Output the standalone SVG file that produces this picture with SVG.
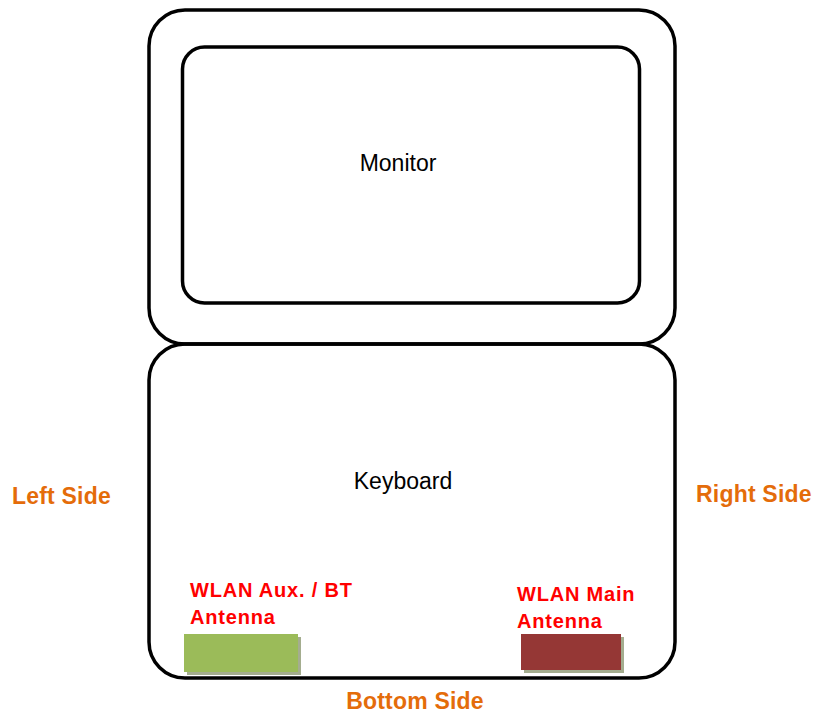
<svg xmlns="http://www.w3.org/2000/svg" width="816" height="714" viewBox="0 0 816 714">
<style>
.frame{fill:none;stroke:#000;stroke-width:3.5}
.lbl{font-family:"Liberation Sans",Arial,sans-serif;font-size:23px;fill:#000}
.side{font-family:"Liberation Sans",Arial,sans-serif;font-size:23px;font-weight:bold;fill:#E46C0A;letter-spacing:0.2px}
.ant{font-family:"Liberation Sans",Arial,sans-serif;font-size:20px;font-weight:bold;fill:#FF0000;letter-spacing:0.8px}
</style>
<rect width="816" height="714" fill="#fff"/>
<g id="monitor-outer"><rect class="frame" x="149" y="10" width="526" height="334" rx="36"/></g>
<g id="monitor"><rect class="frame" x="182.5" y="47" width="457" height="256" rx="22"/>
<text class="lbl" x="398" y="171" text-anchor="middle">Monitor</text></g>
<g id="keyboard"><rect class="frame" x="149" y="344" width="526" height="334" rx="36"/>
<text class="lbl" x="403" y="489" text-anchor="middle">Keyboard</text></g>
<g id="aux-antenna">
<rect x="187" y="637" width="114" height="38" fill="#A4AD8F"/>
<rect x="184" y="634" width="114" height="38" fill="#9BBB59"/>
<text class="ant" x="190" y="597">WLAN Aux. / BT</text>
<text class="ant" x="190" y="624">Antenna</text></g>
<g id="main-antenna">
<rect x="524" y="637" width="100" height="36" fill="#A4AD8F"/>
<rect x="521" y="634" width="100" height="36" fill="#953735"/>
<text class="ant" x="517" y="601">WLAN Main</text>
<text class="ant" x="517" y="628">Antenna</text></g>
<g id="left-side"><text class="side" x="12" y="504">Left Side</text></g>
<g id="right-side"><text class="side" x="696" y="502">Right Side</text></g>
<g id="bottom-side"><text class="side" x="415" y="709" text-anchor="middle">Bottom Side</text></g>
<g id="connectors"></g>
</svg>
